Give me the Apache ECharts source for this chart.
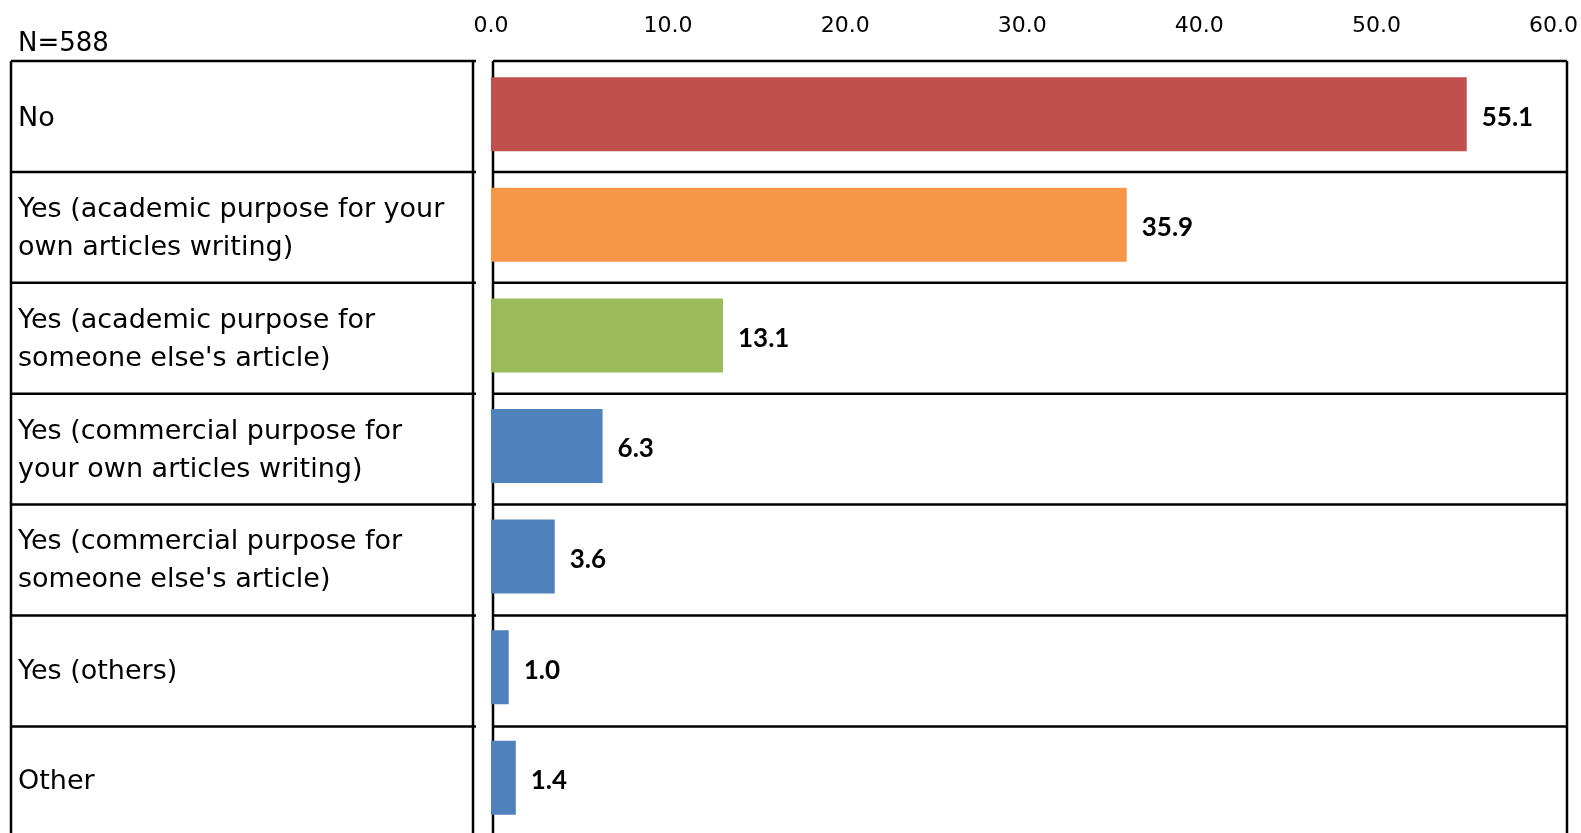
<!DOCTYPE html>
<html>
<head>
<meta charset="utf-8">
<script src="https://cdn.jsdelivr.net/npm/echarts@6/dist/echarts.min.js"></script>
<style>
html,body{margin:0;padding:0;background:#fff;}
#chart{width:1581px;height:833px;}
</style>
</head>
<body>
<div id="chart"></div>
<script>
// ---- data ----
const categories = [
  'No',
  'Yes (academic purpose for your\nown articles writing)',
  'Yes (academic purpose for\nsomeone else\'s article)',
  'Yes (commercial purpose for\nyour own articles writing)',
  'Yes (commercial purpose for\nsomeone else\'s article)',
  'Yes (others)',
  'Other'
];
const values = [55.1, 35.9, 13.1, 6.3, 3.6, 1.0, 1.4];
const sampleNote = 'N=588';
const axisMin = 0, axisMax = 60, axisStep = 10;

// ---- styles / layout ----
const barColors = ['#C0504D', '#F79646', '#9BBB59', '#4F81BD', '#4F81BD', '#4F81BD', '#4F81BD'];
const gridLeft = 491, gridRightX = 1555, tableTop = 61, rowH = 110.9;
const gridTop = tableTop - 2;
const tableL = 11, tableR = 473, frameL = 493, frameR = 1567;
const W = 1581, H = 833;

const chart = echarts.init(document.getElementById('chart'), null, {renderer: 'canvas'});

const lineStyle = {stroke: '#000', lineWidth: 2.5};
const graphics = [];
const nRows = categories.length;
for (let k = 0; k <= nRows; k++) {
  const y = tableTop + k * rowH;
  graphics.push({type: 'line', z: 0, shape: {x1: tableL, y1: y, x2: tableR + 3, y2: y}, style: lineStyle});
  graphics.push({type: 'line', z: 0, shape: {x1: frameL, y1: y, x2: frameR, y2: y}, style: lineStyle});
}
[tableL, tableR, frameL, frameR].forEach(x => {
  graphics.push({type: 'line', z: 0, shape: {x1: x, y1: tableTop, x2: x, y2: H + 5}, style: lineStyle});
});
graphics.push({
  type: 'text', z: 1, left: 18, top: 31,
  style: {text: sampleNote, fill: '#000', font: '26px "DejaVu Sans"'}
});

chart.setOption({
  animation: false,
  backgroundColor: '#fff',
  graphic: graphics,
  grid: {left: gridLeft, width: gridRightX - gridLeft, top: gridTop, height: rowH * nRows, containLabel: false},
  xAxis: {
    type: 'value', position: 'top', min: axisMin, max: axisMax, interval: axisStep,
    axisLine: {show: false}, axisTick: {show: false}, splitLine: {show: false},
    axisLabel: {
      margin: 22, color: '#000', fontSize: 22, fontFamily: 'DejaVu Sans',
      formatter: v => v.toFixed(1)
    }
  },
  yAxis: {
    type: 'category', inverse: true, data: categories,
    axisLine: {show: false}, axisTick: {show: false}, splitLine: {show: false},
    axisLabel: {
      margin: gridLeft - 18, align: 'left', color: '#000',
      fontSize: 27, fontFamily: 'DejaVu Sans', lineHeight: 38,
      formatter: v => '{g| }\n' + v.split('\n').map(l => '{t|' + l + '}').join('\n'),
      rich: {
        g: {fontSize: 1, lineHeight: 9, height: 9},
        t: {fontSize: 27, fontFamily: 'DejaVu Sans', lineHeight: 38, color: '#000'}
      }
    }
  },
  series: [{
    type: 'bar', z: 5, barWidth: 74,
    data: values.map((v, i) => ({value: v, itemStyle: {color: barColors[i]}})),
    label: {
      show: true, position: 'right', distance: 15, offset: [0, 3], color: '#000',
      fontSize: 26, fontWeight: 'bold', fontFamily: 'Lato',
      formatter: p => p.value.toFixed(1)
    }
  }]
});
</script>
</body>
</html>
